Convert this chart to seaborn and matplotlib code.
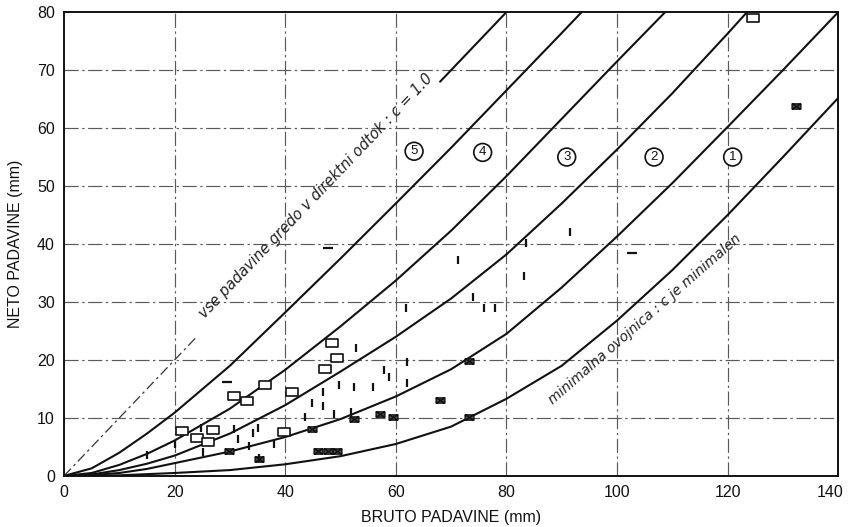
import numpy as np
import pandas as pd
import matplotlib
matplotlib.use("Agg")
import matplotlib.pyplot as plt
import matplotlib.transforms as mtransforms
from matplotlib.path import Path
import seaborn as sns

# Runoff envelope curves: gross precipitation P (mm) -> net precipitation Q (mm)
P_C1 = [0, 5, 10, 15, 20, 30, 40, 50, 60, 70, 80, 90, 93.6]
Q_C1 = [0, 1.3, 4.0, 7.3, 10.9, 19.0, 28.2, 37.5, 47.0, 56.6, 66.5, 76.4, 80.0]

P_C2 = [0, 5, 10, 15, 20, 30, 40, 50, 60, 70, 80, 90, 100, 108.7]
Q_C2 = [0, 0.5, 1.9, 3.8, 6.1, 11.6, 18.3, 25.8, 33.7, 42.3, 51.7, 61.6, 71.5, 80.0]

P_C3 = [0, 5, 10, 15, 20, 30, 40, 50, 60, 70, 80, 90, 100, 110, 120, 123.5]
Q_C3 = [0, 0.25, 1.0, 2.1, 3.5, 7.3, 12.2, 18.0, 24.0, 30.6, 38.2, 47.0, 56.3, 66.0, 76.3, 80.0]

P_C4 = [0, 5, 10, 15, 20, 30, 40, 50, 60, 70, 80, 90, 100, 110, 120, 130, 140]
Q_C4 = [0, 0.15, 0.5, 1.2, 2.2, 4.2, 6.7, 9.8, 13.7, 18.4, 24.5, 32.5, 41.3, 50.5, 60.2, 70.0, 80.0]

P_MIN = [0, 10, 20, 30, 40, 50, 60, 70, 80, 90, 100, 110, 120, 130, 140]
Q_MIN = [0, 0.1, 0.5, 1.0, 2.0, 3.4, 5.5, 8.5, 13.3, 19.0, 26.8, 35.5, 45.0, 55.0, 65.2]

# c = 1.0 line (all precipitation becomes runoff)
P_FULL_DASH = [0, 24]
P_FULL_SOLID = [68, 80]

# Observed events
P_SQUARE = [21.4, 24.1, 26.1, 26.9, 30.7, 33.0, 36.3, 39.7, 41.2, 47.2, 48.5, 49.3, 124.5]
Q_SQUARE = [7.8, 6.6, 5.9, 8.0, 13.8, 13.0, 15.7, 7.6, 14.4, 18.5, 23.0, 20.4, 78.9]

P_TICK = [15.0, 20.1, 24.7, 25.2, 30.7, 31.4, 33.4, 34.1, 35.0, 35.2, 37.9,
          43.6, 44.8, 46.8, 46.8, 48.8, 49.7, 51.9, 52.4, 52.8, 55.9, 57.9,
          58.8, 61.9, 62.1, 62.1, 71.3, 73.9, 76.0, 77.9, 83.1, 83.5, 91.5]
Q_TICK = [3.6, 5.5, 8.3, 4.2, 8.1, 6.4, 5.2, 7.4, 8.3, 3.1, 5.5,
          10.2, 12.5, 14.4, 12.1, 10.7, 15.6, 11.0, 15.4, 22.0, 15.4, 18.3,
          17.0, 28.9, 19.6, 16.1, 37.2, 30.8, 28.9, 28.9, 34.4, 40.1, 42.0]

P_DASH = [29.4, 47.7, 102.7]
Q_DASH = [16.2, 39.3, 38.4]

P_BOX = [29.8, 35.3, 44.8, 45.9, 47.7, 49.4, 52.4, 57.2, 59.5, 67.9, 73.3, 73.3, 132.3]
Q_BOX = [4.3, 2.9, 8.1, 4.3, 4.3, 4.3, 9.8, 10.7, 10.2, 13.1, 19.8, 10.2, 63.8]

# Zone labels between the curves
ZONE_LABELS = ["5", "4", "3", "2", "1"]
ZONE_P = [63.3, 75.7, 90.9, 106.7, 120.9]
ZONE_Q = [56.0, 55.8, 55.0, 55.0, 55.0]

X_TICKS = list(range(0, 141, 20))
Y_TICKS = list(range(0, 81, 10))

sns.set_theme(style="white")
plt.rcParams["font.family"] = ["Liberation Sans Narrow", "Liberation Sans", "DejaVu Sans"]

fig = plt.figure(figsize=(8.48, 5.27), dpi=100)
ax = fig.add_axes([0.0755, 0.097, 0.913, 0.880])

ax.set_xlim(0, 140)
ax.set_ylim(0, 80)

# dash-dot grid
grid_style = dict(color="#5a5a5a", lw=0.85, ls=(0, (12, 3, 2, 3)), zorder=0)
for gx in X_TICKS[1:-1]:
    ax.axvline(gx, **grid_style)
for gy in Y_TICKS[1:-1]:
    ax.axhline(gy, **grid_style)

curve_kw = dict(color="#111111", linewidth=1.5, estimator=None, sort=False, legend=False)
for px, qy in [(P_C1, Q_C1), (P_C2, Q_C2), (P_C3, Q_C3), (P_C4, Q_C4), (P_MIN, Q_MIN)]:
    sns.lineplot(x=px, y=qy, ax=ax, **curve_kw)

sns.lineplot(x=P_FULL_DASH, y=P_FULL_DASH, ax=ax, color="#333333", linewidth=0.9,
             linestyle=(0, (8, 3, 2, 3)), estimator=None, legend=False)
sns.lineplot(x=P_FULL_SOLID, y=P_FULL_SOLID, ax=ax, **curve_kw)

# marker shapes
rect = Path([(-1, -0.62), (1, -0.62), (1, 0.62), (-1, 0.62), (-1, -0.62)],
            [Path.MOVETO, Path.LINETO, Path.LINETO, Path.LINETO, Path.CLOSEPOLY])
xbox = Path([(-1, -0.6), (1, -0.6), (1, 0.6), (-1, 0.6), (-1, -0.6),
             (-1, -0.6), (1, 0.6), (-1, 0.6), (1, -0.6)],
            [Path.MOVETO, Path.LINETO, Path.LINETO, Path.LINETO, Path.CLOSEPOLY,
             Path.MOVETO, Path.LINETO, Path.MOVETO, Path.LINETO])

sns.scatterplot(x=P_SQUARE, y=Q_SQUARE, ax=ax, marker=rect, s=75,
                facecolor="white", edgecolor="#111111", linewidth=1.2, zorder=5)
sns.scatterplot(x=P_BOX, y=Q_BOX, ax=ax, marker=xbox, s=40,
                facecolor="#555555", edgecolor="#111111", linewidth=1.0, zorder=5)
sns.scatterplot(x=P_TICK, y=Q_TICK, ax=ax, marker="|", s=40,
                color="#111111", linewidth=1.6, zorder=5)
sns.scatterplot(x=P_DASH, y=Q_DASH, ax=ax, marker="_", s=55,
                color="#111111", linewidth=1.6, zorder=5)

# circled zone numbers
for lab, zx, zy in zip(ZONE_LABELS, ZONE_P, ZONE_Q):
    ax.text(zx, zy, lab, ha="center", va="center", fontsize=9.5, color="#111111",
            bbox=dict(boxstyle="circle,pad=0.22", fc="white", ec="#111111", lw=1.2),
            zorder=6)

def slope_angle(p0, p1):
    a = ax.transData.transform(p0)
    b = ax.transData.transform(p1)
    return np.degrees(np.arctan2(b[1] - a[1], b[0] - a[0]))

ang_full = slope_angle((0, 0), (80, 80))
ax.text(25.5, 27.0, "vse padavine gredo v direktni odtok : c = 1.0",
        rotation=ang_full, rotation_mode="anchor", ha="left", va="baseline",
        fontsize=10.5, style="italic", color="#222222",
        family=["DejaVu Sans"])

ang_min = slope_angle((87, 15), (123, 45))
ax.text(88.5, 12.3, "minimalna ovojnica : c je minimalen",
        rotation=ang_min, rotation_mode="anchor", ha="left", va="baseline",
        fontsize=10, style="italic", color="#222222",
        family=["DejaVu Sans"])

ax.set_xticks(X_TICKS)
ax.set_yticks(Y_TICKS)
ax.tick_params(axis="both", direction="out", length=5, width=1.0, color="#111111",
               labelsize=11.5, labelcolor="#111111", pad=1.5)
for sp in ax.spines.values():
    sp.set_color("#111111")
    sp.set_linewidth(1.4)

ax.set_xlabel("BRUTO PADAVINE (mm)", fontsize=11.5, color="#111111", labelpad=7)
ax.set_ylabel("NETO PADAVINE (mm)", fontsize=11.5, color="#111111", labelpad=10)

# keep the last x tick label inside the canvas
fig.canvas.draw()
last = ax.get_xticklabels()[-1]
last.set_transform(last.get_transform() +
                   mtransforms.ScaledTranslation(-6 / 72, 0, fig.dpi_scale_trans))

fig.savefig("out.png", dpi=100, facecolor="white")
